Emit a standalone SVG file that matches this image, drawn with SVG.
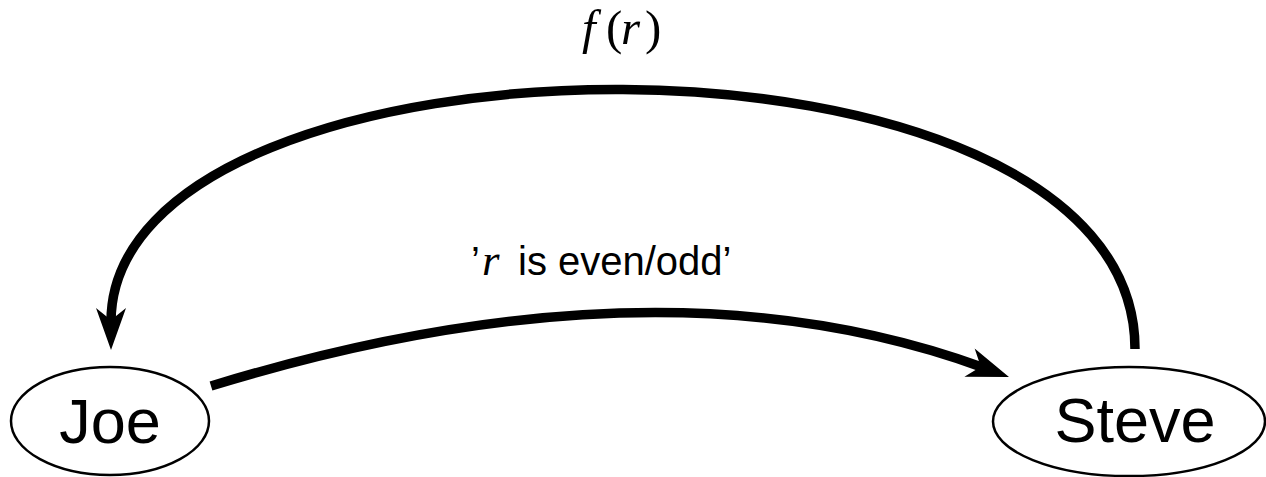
<svg xmlns="http://www.w3.org/2000/svg" xmlns:xlink="http://www.w3.org/1999/xlink" width="1266" height="477" viewBox="0 0 1266 477">
  <style>
    .node { fill: none; stroke: #000; stroke-width: 2.5; }
    .name { font-family: "Liberation Sans", Arial, sans-serif; font-size: 63px; fill: #000; text-anchor: middle; }
    .edge { fill: none; stroke: #000; stroke-width: 9.5; stroke-linecap: butt; }
    .head { fill: #000; stroke: none; }
    .sans { font-family: "Liberation Sans", Arial, sans-serif; font-size: 40px; fill: #000; }
    .math { font-family: "Liberation Serif", "Times New Roman", serif; fill: #000; }
    .it { font-style: italic; }
  </style>
  <defs>
    <path id="ah" d="M0,0 L-42,-15 L-30,0 L-42,15 Z"/>
  </defs>
  <rect width="1266" height="477" fill="#fff"/>

  <g id="connectors">
    <g id="edge-joe-steve">
      <path class="edge" d="M211,386 Q658,249 983,367.5"/>
      <use class="head" xlink:href="#ah" href="#ah" transform="translate(1009,377) rotate(20)"/>
      <text class="sans" y="275"><tspan x="471">’</tspan><tspan class="math it" x="482" font-size="45">r</tspan><tspan x="518">is even/odd’</tspan></text>
    </g>
    <g id="edge-steve-joe">
      <path class="edge" d="M1135,349 C1135,0 111,15 111,322"/>
      <use class="head" xlink:href="#ah" href="#ah" transform="translate(111,350) rotate(90)"/>
      <text class="math" y="44" font-size="49"><tspan class="it" x="582">f</tspan><tspan x="606">(</tspan><tspan class="it" x="621">r</tspan><tspan x="645">)</tspan></text>
    </g>
  </g>

  <g id="node-joe">
    <ellipse class="node" cx="110" cy="421" rx="99" ry="54"/>
    <text class="name" x="110" y="443">Joe</text>
  </g>

  <g id="node-steve">
    <ellipse class="node" cx="1129" cy="421.5" rx="136" ry="54.5"/>
    <text class="name" x="1135" y="442">Steve</text>
  </g>
</svg>
